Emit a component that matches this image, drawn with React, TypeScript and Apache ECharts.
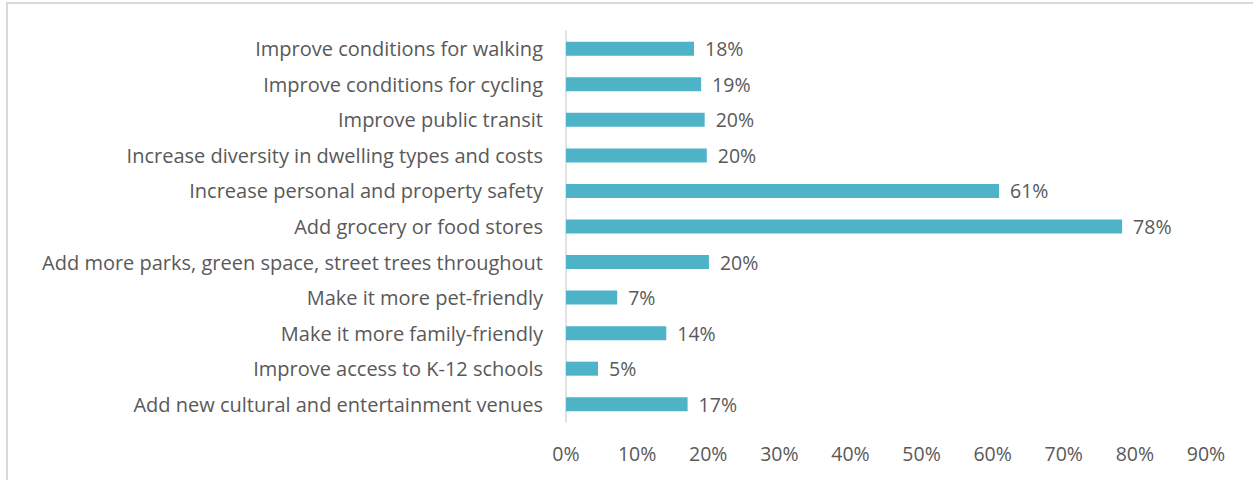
import React, { useEffect, useRef } from "react";
import * as echarts from "echarts";

const categories = [
  "Improve conditions for walking",
  "Improve conditions for cycling",
  "Improve public transit",
  "Increase diversity in dwelling types and costs",
  "Increase personal and property safety",
  "Add grocery or food stores",
  "Add more parks, green space, street trees throughout",
  "Make it more pet-friendly",
  "Make it more family-friendly",
  "Improve access to K-12 schools",
  "Add new cultural and entertainment venues",
];

const values = [18.0, 19.0, 19.5, 19.8, 60.9, 78.2, 20.1, 7.2, 14.1, 4.5, 17.1];
const labels = ["18%", "19%", "20%", "20%", "61%", "78%", "20%", "7%", "14%", "5%", "17%"];

const FONT = "Open Sans";
const TEXT = "#595959";

export default function App() {
  const ref = useRef<HTMLDivElement>(null);
  useEffect(() => {
    if (!ref.current) return;
    const chart = echarts.init(ref.current, undefined, { renderer: "svg" });
    chart.setOption({
      animation: false,
      backgroundColor: "#ffffff",
      grid: { left: 566, right: 47, top: 31, bottom: 58, containLabel: false },
      xAxis: {
        type: "value",
        min: 0,
        max: 90,
        interval: 10,
        axisLine: { show: false },
        axisTick: { show: false },
        splitLine: { show: false },
        axisLabel: {
          formatter: (v: number) => `${v}%`,
          color: TEXT,
          fontFamily: FONT,
          fontSize: 19.5,
          margin: 21,
        },
      },
      yAxis: {
        type: "category",
        inverse: true,
        data: categories,
        axisLine: { show: true, lineStyle: { color: "#D9D9D9", width: 1.5 } },
        axisTick: { show: false },
        axisLabel: {
          color: TEXT,
          fontFamily: FONT,
          fontSize: 20,
          margin: 23,
        },
      },
      series: [
        {
          type: "bar",
          data: values,
          barWidth: 14,
          itemStyle: { color: "#4FB3C8" },
          label: {
            show: true,
            position: "right",
            distance: 11,
            color: TEXT,
            fontFamily: FONT,
            fontSize: 19.5,
            formatter: (p: any) => labels[p.dataIndex],
          },
        },
      ],
      graphic: [
        {
          type: "rect",
          shape: { x: 7, y: 3, width: 1300, height: 600 },
          style: { fill: "none", stroke: "#D9D9D9", lineWidth: 2 },
          silent: true,
        },
      ],
    });
    return () => chart.dispose();
  }, []);
  return (
    <div
      ref={ref}
      style={{ position: "absolute", left: 0, top: 0, width: 1253, height: 480 }}
    />
  );
}
